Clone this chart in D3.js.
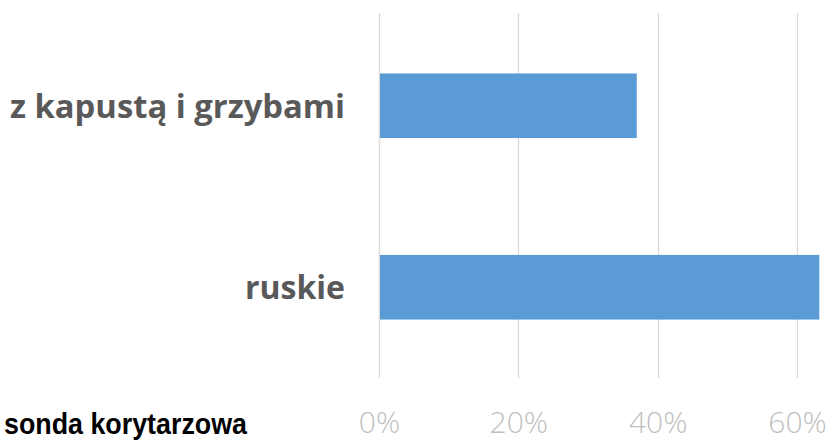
<!DOCTYPE html>
<html>
<head>
    <meta charset="utf-8">
    <title>sonda korytarzowa</title>
    <style>
        body { margin: 0; background: #fff; }
    </style>
</head>
<body>
    <svg id="chart"></svg>
<script src="https://cdn.jsdelivr.net/npm/d3@7/dist/d3.min.js"></script>
<script>
    // data
    const categories = ["z kapustą i grzybami", "ruskie"];
    const values = [0.37, 0.632];
    const tickValues = [0, 0.2, 0.4, 0.6];
    const tickLabels = ["0%", "20%", "40%", "60%"];
    const labelWidths = [335, 100];   // label widths in the picture
    const note = "sonda korytarzowa";

    const width = 837, height = 441;
    const margin = { top: 15, right: 0, bottom: 63, left: 379 };

    const svg = d3.select("#chart")
        .attr("width", width)
        .attr("height", height);

    const x = d3.scaleLinear()
        .domain([0, 0.6])
        .range([margin.left, 797]);

    const y = d3.scaleBand()
        .domain(categories)
        .range([margin.top, height - margin.bottom])
        .paddingInner(0.644)
        .paddingOuter(0.322);

    // grid
    svg.append("g")
        .selectAll("line")
        .data(tickValues)
        .join("line")
        .attr("x1", d => Math.round(x(d)) + 0.5)
        .attr("x2", d => Math.round(x(d)) + 0.5)
        .attr("y1", 13)
        .attr("y2", 378)
        .attr("stroke", "#d9d9d9")
        .attr("stroke-width", 1.3);

    // bars
    svg.append("g")
        .selectAll("rect")
        .data(categories)
        .join("rect")
        .attr("x", x(0) + 1)
        .attr("y", d => y(d))
        .attr("width", (d, i) => x(values[i]) - x(0) - 1)
        .attr("height", y.bandwidth())
        .attr("fill", "#5b9bd5");

    // category labels
    svg.append("g")
        .selectAll("text")
        .data(categories)
        .join("text")
        .attr("x", 345)
        .attr("y", d => y(d) + y.bandwidth() / 2 + 12)
        .attr("text-anchor", "end")
        .attr("font-family", "'Open Sans', 'Noto Sans', sans-serif")
        .attr("font-weight", "bold")
        .attr("font-size", 32)
        .attr("fill", "#595959")
        .attr("textLength", (d, i) => labelWidths[i])
        .attr("lengthAdjust", "spacingAndGlyphs")
        .text(d => d);

    // x axis tick labels
    const xAxis = d3.axisBottom(x)
        .tickValues(tickValues)
        .tickFormat((d, i) => tickLabels[i])
        .tickSize(0)
        .tickPadding(0);

    const gx = svg.append("g")
        .attr("transform", `translate(0, 433)`)
        .call(xAxis);
    gx.select(".domain").remove();
    gx.selectAll("text")
        .attr("y", 0)
        .attr("dy", 0)
        .attr("font-family", "'Open Sans', 'Lato', sans-serif")
        .attr("font-weight", 300)
        .attr("font-size", 30)
        .attr("fill", "#bfbfbf");

    // note bottom-left
    svg.append("text")
        .attr("x", 4)
        .attr("y", 434)
        .attr("font-family", "'Liberation Sans', Arial, sans-serif")
        .attr("font-weight", "bold")
        .attr("font-size", 29)
        .attr("fill", "#000")
        .attr("textLength", 243)
        .attr("lengthAdjust", "spacingAndGlyphs")
        .text(note);
</script>
</body>
</html>
